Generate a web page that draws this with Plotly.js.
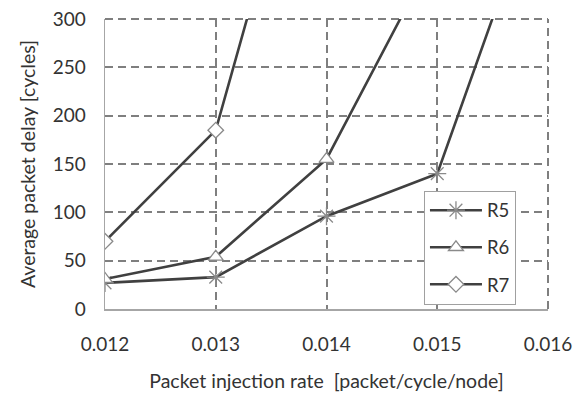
<!DOCTYPE html>
<html><head><meta charset="utf-8">
<script src="https://cdn.plot.ly/plotly-3.0.1.min.js"></script>
<style>html,body{margin:0;padding:0;background:#fff}#chart{width:579px;height:399px}</style>
</head><body><div id="chart"></div>
<script>
const rates = [0.012, 0.013, 0.014, 0.015, 0.016];
const r5 = [27, 33, 96, 140, 462];
const r6 = [31, 54, 155, 373];
const r7 = [70, 185, 593];
const seriesNames = ['R5', 'R6', 'R7'];
const xTicks = [0.012, 0.013, 0.014, 0.015, 0.016];
const xTickText = ['0.012', '0.013', '0.014', '0.015', '0.016'];
const yTicks = [0, 50, 100, 150, 200, 250, 300];

const lineColor = '#404040';
const markGrey = '#8a8a8a';
const gridGrey = '#7f7f7f';
const font = 'Lato, "Open Sans", sans-serif';

const traces = [
  {x: rates.slice(0, r5.length), y: r5, name: seriesNames[0], legendgroup: 'a',
   mode: 'lines+markers', line: {color: lineColor, width: 2.6},
   marker: {symbol: 'asterisk-open', size: 15, color: markGrey, line: {color: markGrey, width: 1.3}}},
  {x: rates.slice(0, r6.length), y: r6, name: seriesNames[1], legendgroup: 'b',
   mode: 'lines+markers', line: {color: lineColor, width: 2.6},
   marker: {symbol: 'triangle-up', size: 13, color: '#ffffff', line: {color: markGrey, width: 1.3}}},
  {x: rates.slice(0, r7.length), y: r7, name: seriesNames[2], legendgroup: 'c',
   mode: 'lines+markers', line: {color: lineColor, width: 2.6},
   marker: {symbol: 'diamond', size: 12, color: '#ffffff', line: {color: markGrey, width: 1.3}}}
];

const dashStyle = {color: gridGrey, width: 2, dash: '8px,5px'};
const layout = {
  width: 579, height: 399,
  margin: {l: 105, r: 31, t: 19, b: 90},
  paper_bgcolor: '#fff', plot_bgcolor: '#fff',
  font: {family: font, color: '#333', size: 18},
  showlegend: true,
  legend: {x: 0.72, y: 0.408, xanchor: 'left', yanchor: 'top', bgcolor: '#fff',
           bordercolor: '#a0a0a0', borderwidth: 1, font: {size: 18.5, color: '#333'},
           traceorder: 'grouped', tracegroupgap: 10, itemwidth: 52},
  shapes: [
    {type: 'line', xref: 'paper', yref: 'paper', x0: 0, x1: 1, y0: 1, y1: 1, line: dashStyle, layer: 'below'},
    {type: 'line', xref: 'paper', yref: 'paper', x0: 1, x1: 1, y0: 0, y1: 1, line: dashStyle, layer: 'below'}
  ],
  xaxis: {range: [0.012, 0.016], tickvals: xTicks, ticktext: xTickText,
          showgrid: true, gridcolor: gridGrey, gridwidth: 2, griddash: '8px,5px',
          showline: true, linecolor: '#a6a6a6', linewidth: 1.5, zeroline: false,
          ticks: '', ticklabelstandoff: 18, tickfont: {size: 19},
          title: {text: 'Packet injection rate  [packet/cycle/node]', font: {size: 19.5}, standoff: 20}},
  yaxis: {range: [0, 300], tickvals: yTicks,
          showgrid: true, gridcolor: gridGrey, gridwidth: 2, griddash: '8px,5px',
          showline: true, linecolor: '#a6a6a6', linewidth: 1.5, zeroline: false,
          ticks: '', ticklabelstandoff: 14, tickfont: {size: 19},
          title: {text: 'Average packet delay [cycles]', font: {size: 19.5}, standoff: 12}}
};

Plotly.newPlot('chart', traces, layout, {displayModeBar: false, staticPlot: true});
</script></body></html>
